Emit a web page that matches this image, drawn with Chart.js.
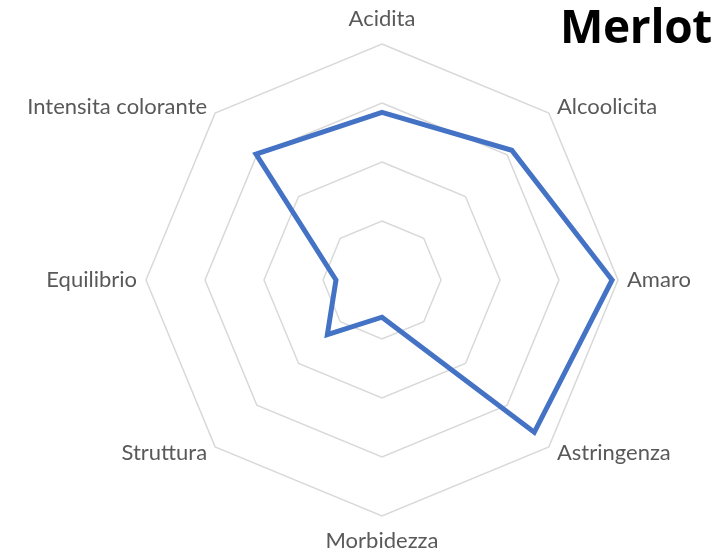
<!DOCTYPE html>
<html>
<head>
<meta charset="utf-8">
<script src="https://cdn.jsdelivr.net/npm/chart.js@4/dist/chart.umd.min.js"></script>
<style>
  html, body { margin: 0; padding: 0; background: #fff; }
  #wrap { position: relative; width: 716px; height: 558px; }
  #title {
    position: absolute; right: 4px; top: -6px;
    font-family: "Open Sans", sans-serif; font-weight: 700; font-size: 46px;
    color: #000; letter-spacing: -0.3px;
  }
</style>
</head>
<body>
<div id="wrap">
  <canvas id="radar" width="716" height="558"></canvas>
  <div id="title">Merlot</div>
</div>
<script>
// wine tasting profile
const labels = ["Acidita", "Alcoolicita", "Amaro", "Astringenza", "Morbidezza", "Struttura", "Equilibrio", "Intensita colorante"];
const merlot = [2.84, 3.11, 3.9, 3.65, 0.63, 1.31, 0.78, 3.02];
const ticks = [0, 1, 2, 3, 4];

// axis names sit just outside the outer ring, placed off each vertex
const axisNames = {
  id: "axisNames",
  afterDraw(chart) {
    const scale = chart.scales.r;
    const ctx = chart.ctx;
    ctx.save();
    ctx.font = "22px Lato";
    ctx.fillStyle = "#595959";
    ctx.textBaseline = "middle";
    chart.data.labels.forEach((name, i) => {
      const p = scale.getPointPosition(i, scale.drawingArea);
      const dx = p.x - scale.xCenter, dy = p.y - scale.yCenter;
      const sx = Math.abs(dx) < 1 ? 0 : Math.sign(dx);
      const sy = Math.abs(dy) < 1 ? 0 : Math.sign(dy);
      let x = p.x, y = p.y;
      if (sx === 0) {
        y += sy * 25;
      } else if (sy === 0) {
        x += sx * 9;
      } else {
        x += sx * 8;
        y += sy * 6;
      }
      ctx.textAlign = sx === 0 ? "center" : (sx > 0 ? "left" : "right");
      ctx.fillText(name, x, y);
    });
    ctx.restore();
  }
};

new Chart(document.getElementById("radar"), {
  type: "radar",
  data: {
    labels: labels,
    datasets: [{
      data: merlot,
      borderColor: "#4472C4",
      borderWidth: 5,
      fill: false,
      pointRadius: 0,
      tension: 0
    }]
  },
  options: {
    responsive: false,
    animation: false,
    layout: { padding: { left: 48, right: 0, top: 44, bottom: 42 } },
    plugins: { legend: { display: false }, tooltip: { enabled: false } },
    scales: {
      r: {
        min: ticks[0],
        max: ticks[ticks.length - 1],
        ticks: { display: false, stepSize: 1 },
        angleLines: { display: false },
        grid: { color: "#d9d9d9", lineWidth: 1.5 },
        pointLabels: { display: false }
      }
    }
  },
  plugins: [axisNames]
});
</script>
</body>
</html>
